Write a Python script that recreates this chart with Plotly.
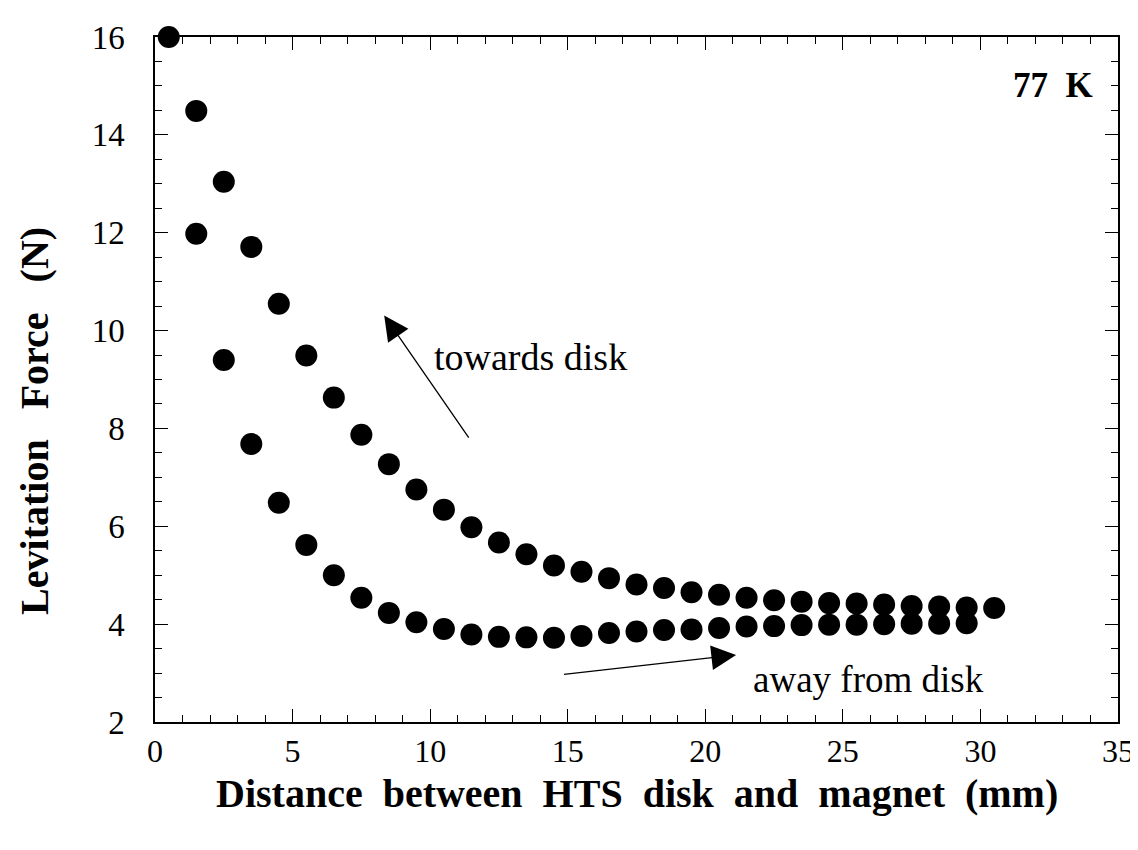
import plotly.graph_objects as go

# Distance (mm) and levitation force (N)
dist_towards = [0.5, 1.5, 2.5, 3.5, 4.5, 5.5, 6.5, 7.5, 8.5, 9.5, 10.5, 11.5, 12.5, 13.5, 14.5,
                15.5, 16.5, 17.5, 18.5, 19.5, 20.5, 21.5, 22.5, 23.5, 24.5, 25.5, 26.5, 27.5,
                28.5, 29.5, 30.5]
force_towards = [16.0, 14.49, 13.04, 11.71, 10.55, 9.49, 8.63, 7.87, 7.27, 6.75, 6.34, 5.98, 5.67,
                 5.43, 5.20, 5.07, 4.94, 4.81, 4.74, 4.65, 4.60, 4.54, 4.49, 4.46, 4.43, 4.42,
                 4.40, 4.37, 4.36, 4.34, 4.33]

dist_away = [1.5, 2.5, 3.5, 4.5, 5.5, 6.5, 7.5, 8.5, 9.5, 10.5, 11.5, 12.5, 13.5, 14.5, 15.5,
             16.5, 17.5, 18.5, 19.5, 20.5, 21.5, 22.5, 23.5, 24.5, 25.5, 26.5, 27.5, 28.5, 29.5]
force_away = [11.98, 9.40, 7.68, 6.48, 5.62, 5.00, 4.54, 4.23, 4.04, 3.90, 3.79, 3.74, 3.73, 3.72,
              3.76, 3.82, 3.85, 3.88, 3.89, 3.92, 3.95, 3.96, 3.98, 3.99, 3.99, 4.00, 4.01,
              4.01, 4.02]

x_ticks = [0, 5, 10, 15, 20, 25, 30, 35]
y_ticks = [2, 4, 6, 8, 10, 12, 14, 16]

FONT = "Liberation Serif"
NB = "\u00a0"

fig = go.Figure()
marker = dict(color="black", size=22, line=dict(width=0))
fig.add_trace(go.Scatter(x=dist_towards, y=force_towards, mode="markers", marker=marker,
                         name="towards disk", showlegend=False, cliponaxis=False))
fig.add_trace(go.Scatter(x=dist_away, y=force_away, mode="markers", marker=marker,
                         name="away from disk", showlegend=False, cliponaxis=False))

axis_common = dict(
    showline=True, linecolor="black", linewidth=1.5, mirror="ticks",
    ticks="inside", ticklen=13, tickwidth=1.3, tickcolor="black",
    showgrid=False, zeroline=False, ticklabeloverflow="allow",
)

fig.update_xaxes(range=[0, 35], tickvals=x_ticks, ticktext=[str(v) for v in x_ticks],
                 minor=dict(dtick=1, ticks="inside", ticklen=7, tickwidth=1.1, tickcolor="black"),
                 ticklabelstandoff=0,
                 tickfont=dict(family=FONT, size=32, color="black"),
                 **axis_common)
fig.update_yaxes(range=[2, 16], tickvals=y_ticks, ticktext=[str(v) for v in y_ticks],
                 minor=dict(dtick=0.5, ticks="inside", ticklen=7, tickwidth=1.1, tickcolor="black"),
                 ticklabelstandoff=22,
                 tickfont=dict(family=FONT, size=33, color="black"),
                 **axis_common)

# axis titles
fig.add_annotation(x=0.5, y=-0.105, xref="paper", yref="paper", xanchor="center", yanchor="middle",
                   text=f"Distance{NB}{NB}between{NB}{NB}HTS{NB}{NB}disk{NB}{NB}and{NB}{NB}magnet{NB}{NB}(mm)",
                   showarrow=False,
                   font=dict(family=FONT, size=40, color="black", weight="bold"))
fig.add_annotation(x=-0.125, y=0.439, xref="paper", yref="paper", xanchor="center", yanchor="middle",
                   text=f"Levitation{NB}{NB}{NB}Force{NB}{NB}{NB}(N)", textangle=-90,
                   showarrow=False,
                   font=dict(family=FONT, size=40, color="black", weight="bold"))

fig.add_annotation(x=32.63, y=15.01, xref="x", yref="y", text=f"77{NB}{NB}K", showarrow=False,
                   font=dict(family=FONT, size=35, color="black", weight="bold"))
fig.add_annotation(x=10.06, y=9.45, xref="x", yref="y", text="towards disk", showarrow=False,
                   xanchor="left", font=dict(family=FONT, size=38, color="black"))
fig.add_annotation(x=21.67, y=2.87, xref="x", yref="y", text="away from disk", showarrow=False,
                   xanchor="left", font=dict(family=FONT, size=37, color="black"))
# arrows
fig.add_annotation(x=8.33, y=10.31, ax=11.44, ay=7.78, xref="x", yref="y", axref="x", ayref="y",
                   text="", showarrow=True, arrowhead=2, arrowsize=3.8, arrowwidth=1.3,
                   arrowcolor="black")
fig.add_annotation(x=21.12, y=3.37, ax=14.81, ay=2.97, xref="x", yref="y", axref="x", ayref="y",
                   text="", showarrow=True, arrowhead=2, arrowsize=3.8, arrowwidth=1.3,
                   arrowcolor="black")

fig.update_layout(
    width=1138, height=850,
    margin=dict(l=147, r=20, t=21, b=136),
    paper_bgcolor="white", plot_bgcolor="white",
    font=dict(family=FONT, color="black"),
)

fig.write_html("out.html")
